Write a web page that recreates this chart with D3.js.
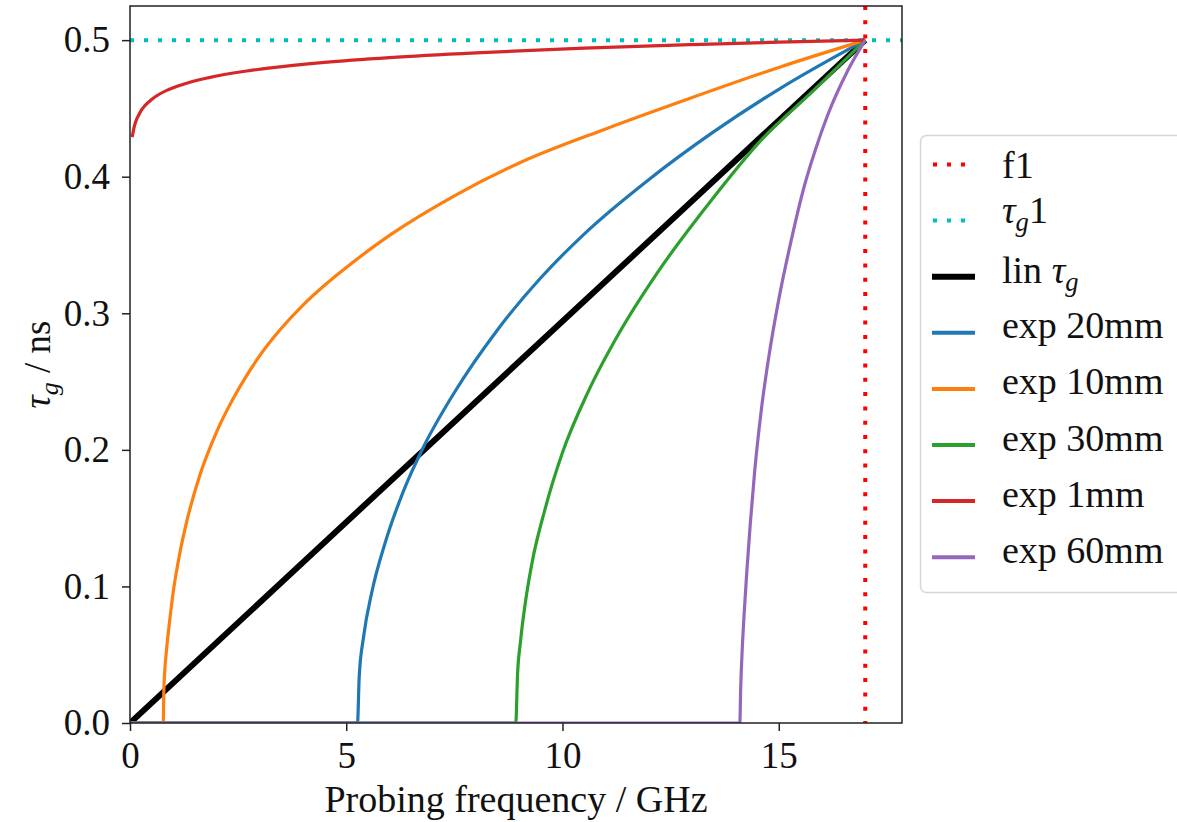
<!DOCTYPE html>
<html>
<head>
<meta charset="utf-8">
<script src="https://cdn.jsdelivr.net/npm/d3@7"></script>
<style>
  body { margin: 0; background: #fff; }
  text { font-family: "Liberation Serif", "DejaVu Serif", serif; fill: #111; }
</style>
</head>
<body>
<div id="chart"></div>
<script>
// ticks
var xTicks = [0, 5, 10, 15];
var yTicks = [0.0, 0.1, 0.2, 0.3, 0.4, 0.5];

// reference lines
var f1 = 17;
var tau1 = 0.5;

// curves, [frequency GHz, tau_g ns]
var linTau = [[0, 0], [17, 0.5]];
var exp20mm = [[0, 0], [5.26, 0], [5.3, 0.034], [5.4, 0.063], [5.6, 0.097], [5.9, 0.132], [6.3, 0.168],
    [6.8, 0.203], [7.5, 0.242], [8.5, 0.288], [9.5, 0.326], [10.5, 0.358], [12, 0.398], [13.5, 0.433],
    [15, 0.464], [17, 0.5]];
var exp10mm = [[0, 0], [0.77, 0], [0.78, 0.02], [0.8, 0.036], [0.84, 0.052], [0.9, 0.07], [1.0, 0.096],
    [1.15, 0.124], [1.3, 0.146], [1.6, 0.18], [2.0, 0.213], [2.5, 0.244], [3.0, 0.269], [3.5, 0.289],
    [4.0, 0.306], [4.5, 0.3205], [5.0, 0.3335], [6.0, 0.357], [7.5, 0.386], [9.0, 0.41], [11.0, 0.435],
    [13.0, 0.458], [15.0, 0.48], [17, 0.5]];
var exp30mm = [[0, 0], [8.92, 0], [8.96, 0.035], [9.03, 0.06], [9.15, 0.09], [9.3, 0.118], [9.6, 0.157],
    [10.0, 0.198], [10.6, 0.243], [11.3, 0.285], [12.2, 0.33], [13.3, 0.377], [14.6, 0.427],
    [15.8, 0.463], [17, 0.5]];
var exp1mm = [[0.05, 0.429], [0.06, 0.4306], [0.08, 0.434], [0.1, 0.4368], [0.15, 0.4418], [0.2, 0.445],
    [0.25, 0.4481], [0.35, 0.4522], [0.5, 0.4566], [0.6, 0.4589], [0.85, 0.4632], [1.2, 0.4674],
    [1.8, 0.4724], [2.7, 0.4774], [3.2, 0.4795], [4.5, 0.4837], [6.0, 0.4872], [8.0, 0.4907],
    [10.5, 0.4941], [13.0, 0.4967], [15.0, 0.4985], [17, 0.5]];
var exp60mm = [[0, 0], [14.1, 0], [14.12, 0.025], [14.15, 0.05], [14.2, 0.08], [14.26, 0.11],
    [14.34, 0.145], [14.44, 0.183], [14.6, 0.23], [14.77, 0.268], [15.0, 0.31], [15.3, 0.355],
    [15.59, 0.393], [15.85, 0.42], [16.13, 0.445], [16.6, 0.478], [17, 0.5]];

var curves = [linTau, exp20mm, exp10mm, exp30mm, exp1mm, exp60mm];
var curveColors = ["#000000", "#1f77b4", "#ff7f0e", "#2ca02c", "#d62728", "#9467bd"];
var curveWidths = [6, 3.2, 3.2, 3.2, 3.2, 3.2];

// legend labels: parts of [text, style]
var legendLabels = [
    [["f1", ""]],
    [["τ", "i"], ["g", "sub"], ["1", ""]],
    [["lin ", ""], ["τ", "i"], ["g", "sub"]],
    [["exp 20mm", ""]],
    [["exp 10mm", ""]],
    [["exp 30mm", ""]],
    [["exp 1mm", ""]],
    [["exp 60mm", ""]]
];

var margin = {top: 6, right: 275, bottom: 99, left: 130},
    width = 1177 - margin.left - margin.right,
    height = 822 - margin.top - margin.bottom;

var svgRoot = d3.select("#chart")
    .append("svg")
    .attr("width", 1177)
    .attr("height", 822);

var svg = svgRoot.append("g")
    .attr("transform", "translate(" + margin.left + "," + margin.top + ")");

var x = d3.scaleLinear().domain([0, 17.85]).range([0, width]);
var y = d3.scaleLinear().domain([0, 0.525]).range([height, 0]);

svg.append("clipPath")
    .attr("id", "plot-clip")
    .append("rect")
    .attr("width", width)
    .attr("height", height);

// mathtext-ish label writer
function writeParts(textSel, parts, size) {
    var shifted = false;
    parts.forEach(function (p) {
        var t = textSel.append("tspan").text(p[0]);
        if (p[1] == "i" || p[1] == "sub") t.attr("font-style", "italic");
        if (p[1] == "sub") {
            t.attr("font-size", size * 0.7).attr("dy", size * 0.22);
            shifted = true;
        } else if (shifted) {
            t.attr("dy", -size * 0.22);
            shifted = false;
        }
    });
}

// axes
var fontSize = 37;
svg.append("g")
    .attr("class", "xaxis")
    .attr("transform", "translate(0," + height + ")")
    .call(d3.axisBottom(x).tickValues(xTicks).tickSize(8).tickPadding(11).tickFormat(d3.format("d")))
    .call(function (g) { g.select(".domain").remove(); });

svg.append("g")
    .attr("class", "yaxis")
    .call(d3.axisLeft(y).tickValues(yTicks).tickSize(8).tickPadding(12).tickFormat(d3.format(".1f")))
    .call(function (g) { g.select(".domain").remove(); });

svg.selectAll(".xaxis text, .yaxis text")
    .attr("font-size", fontSize)
    .attr("font-family", "Liberation Serif, serif")
    .attr("fill", "#111");
svg.selectAll(".xaxis line, .yaxis line")
    .attr("stroke", "#222")
    .attr("stroke-width", 1.5);

var plot = svg.append("g").attr("clip-path", "url(#plot-clip)");

// f1 and tau_g1 dotted lines
plot.append("line")
    .attr("x1", x(f1)).attr("x2", x(f1))
    .attr("y1", 0).attr("y2", height)
    .attr("stroke", "#ff0000")
    .attr("stroke-width", 4)
    .attr("stroke-dasharray", "4,10.3");

plot.append("line")
    .attr("x1", 0).attr("x2", width)
    .attr("y1", y(tau1)).attr("y2", y(tau1))
    .attr("stroke", "#00bfbf")
    .attr("stroke-width", 4)
    .attr("stroke-dasharray", "4,10");

var line = d3.line()
    .x(function (d) { return x(d[0]); })
    .y(function (d) { return y(d[1]); })
    .curve(d3.curveMonotoneX);

curves.forEach(function (c, i) {
    plot.append("path")
        .datum(c)
        .attr("d", line)
        .attr("fill", "none")
        .attr("stroke", curveColors[i])
        .attr("stroke-width", curveWidths[i])
        .attr("stroke-linejoin", "round");
});

// frame
svg.append("rect")
    .attr("width", width)
    .attr("height", height)
    .attr("fill", "none")
    .attr("stroke", "#222")
    .attr("stroke-width", 1.5);

// axis labels
svg.append("text")
    .attr("x", width / 2)
    .attr("y", 806)
    .attr("text-anchor", "middle")
    .attr("font-size", 38)
    .text("Probing frequency / GHz");

var yLabel = svgRoot.append("text")
    .attr("transform", "translate(50," + (margin.top + height / 2) + ") rotate(-90)")
    .attr("text-anchor", "middle")
    .attr("font-size", fontSize);
writeParts(yLabel, [["τ", "i"], ["g", "sub"], [" / ns", ""]], fontSize);

// legend
var legend = svgRoot.append("g").attr("class", "legend");
legend.append("rect")
    .attr("x", 920.5)
    .attr("y", 135.5)
    .attr("width", 290)
    .attr("height", 457)
    .attr("rx", 6)
    .attr("fill", "#fff")
    .attr("fill-opacity", 0.8)
    .attr("stroke", "#d6d6d6")
    .attr("stroke-width", 1.5);

var handleColors = ["#ff0000", "#00bfbf"].concat(curveColors);
var textOffsets = [13, 2, 6, 5.5, 5.5, 5.5, 5.5, 5.5];

legendLabels.forEach(function (parts, i) {
    var cy = 164.5 + i * 56.1;
    var h = legend.append("line")
        .attr("x1", 932).attr("x2", 975)
        .attr("y1", cy).attr("y2", cy)
        .attr("stroke", handleColors[i])
        .attr("stroke-width", i == 2 ? 6 : 4);
    if (i < 2) h.attr("stroke-dasharray", "4,10").attr("x1", 933);
    var t = legend.append("text")
        .attr("x", 1002)
        .attr("y", cy + textOffsets[i])
        .attr("font-size", 38);
    writeParts(t, parts, 38);
});
</script>
</body>
</html>
